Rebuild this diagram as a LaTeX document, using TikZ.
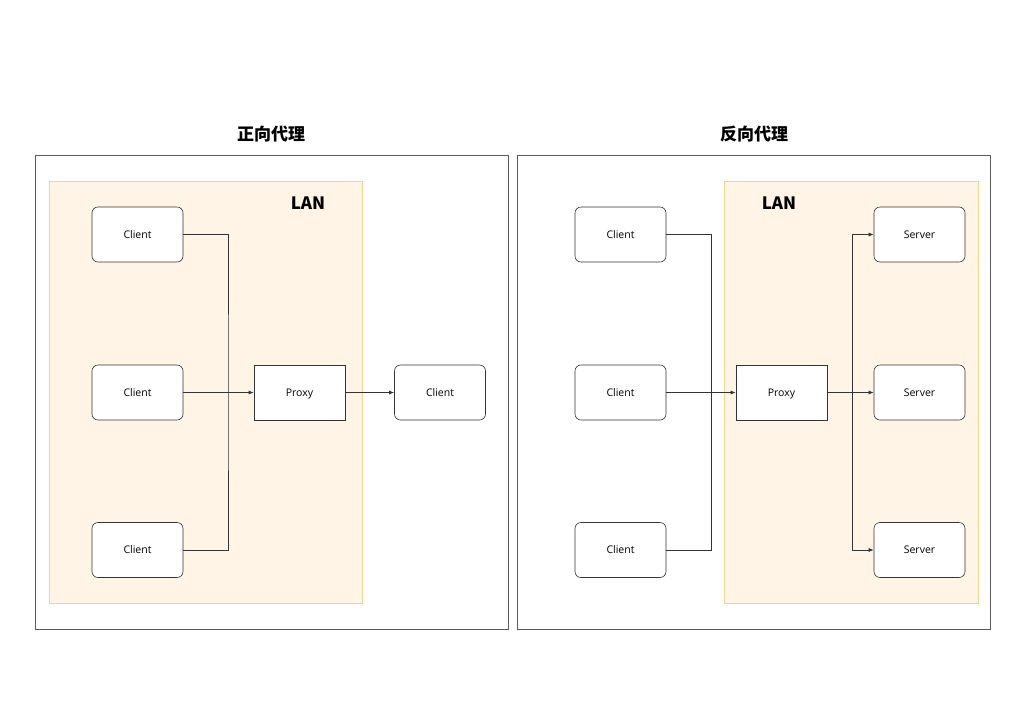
\documentclass[tikz,border=0pt]{standalone}
\usepackage{fontspec}
\setmainfont{Open Sans}
\newfontfamily\cjk{Noto Sans CJK SC}
\usetikzlibrary{arrows.meta}
\definecolor{lanfill}{HTML}{FFF4E6}
\definecolor{landraw}{HTML}{F0D58C}
\definecolor{edge}{HTML}{333333}
\definecolor{outer}{HTML}{5A5A5A}
\begin{document}
\begin{tikzpicture}[x=1pt,y=-1pt,
  box/.style={draw=edge,fill=white,minimum width=91pt,minimum height=55pt,inner sep=0pt,text height=7.5pt,text depth=0pt,font=\fontsize{10.5}{12}\selectfont,line width=0.6pt},
  rbox/.style={box,rounded corners=6pt},
  con/.style={draw=edge,line width=0.7pt},
  arr/.style={con,-{Latex[length=5pt,width=4pt]}},
  title/.style={font=\cjk\bfseries\fontsize{17}{19}\selectfont},
  lanlbl/.style={font=\cjk\bfseries\fontsize{17}{19}\selectfont}]
\useasboundingbox (0,0) rectangle (1024,724);
\fill[white] (0,0) rectangle (1024,724);
% outer boxes
\draw[outer,line width=0.7pt] (35,155) rectangle (508,629);
\draw[outer,line width=0.7pt] (517,155) rectangle (990,629);
\node[title] (t1) at (271,134) {正向代理};
\node[title] (t2) at (754,134) {反向代理};
% LANs
\draw[landraw,fill=lanfill,line width=0.7pt] (49,181) rectangle (362,603);
\draw[landraw,fill=lanfill,line width=0.7pt] (724,181) rectangle (978,603);
\node[lanlbl] (lan1) at (308,203) {LAN};
\node[lanlbl] (lan2) at (779,203) {LAN};
% left
\node[rbox] (c1) at (137.5,234.5) {Client};
\node[rbox] (c2) at (137.5,392.5) {Client};
\node[rbox] (c3) at (137.5,550) {Client};
\node[box] (p1) at (299.5,392.5) {Proxy};
\node[rbox] (c4) at (440,392.5) {Client};
\coordinate (jl) at (228,392.5);
\draw[con] (c1.east) -| (jl) |- (c3.east);
\draw[arr] (c2.east) -- (p1.west);
\draw[arr] (p1.east) -- (c4.west);
% right
\node[rbox] (d1) at (620.5,234.5) {Client};
\node[rbox] (d2) at (620.5,392.5) {Client};
\node[rbox] (d3) at (620.5,550) {Client};
\node[box] (p2) at (781.5,392.5) {Proxy};
\node[rbox] (s1) at (919.5,234.5) {Server};
\node[rbox] (s2) at (919.5,392.5) {Server};
\node[rbox] (s3) at (919.5,550) {Server};
\coordinate (jr1) at (711,392.5);
\coordinate (jr2) at (852,392.5);
\draw[con] (d1.east) -| (jr1) |- (d3.east);
\draw[arr] (d2.east) -- (p2.west);
\draw[arr] (p2.east) -- (s2.west);
\draw[arr] (jr2) |- (s1.west);
\draw[arr] (jr2) |- (s3.west);
\end{tikzpicture}
\end{document}
